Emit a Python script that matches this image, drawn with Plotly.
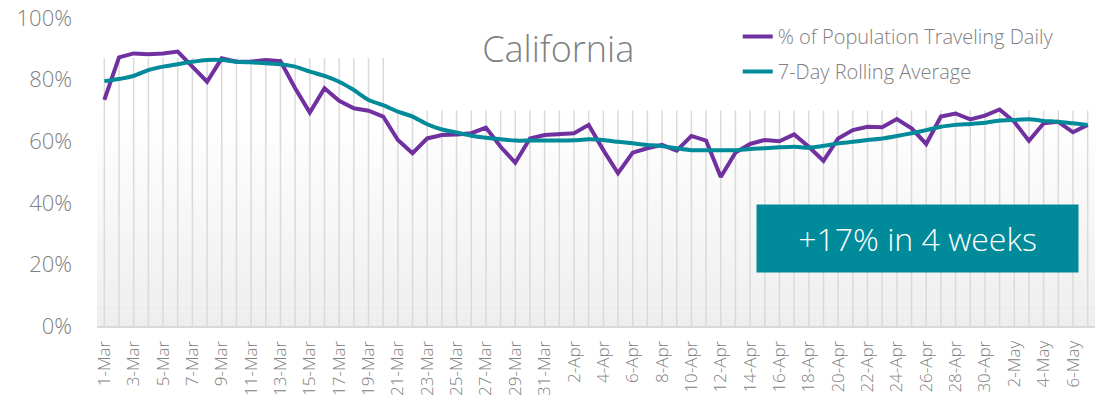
import plotly.graph_objects as go

# ---- data ----
dates = (
    [f"{d}-Mar" for d in range(1, 32)]
    + [f"{d}-Apr" for d in range(1, 31)]
    + [f"{d}-May" for d in range(1, 8)]
)
daily = [
    0.734, 0.872, 0.885, 0.882, 0.885, 0.891, 0.842, 0.793, 0.869, 0.858,
    0.858, 0.864, 0.860, 0.772, 0.693, 0.772, 0.731, 0.707, 0.699, 0.680,
    0.604, 0.561, 0.609, 0.620, 0.622, 0.626, 0.644, 0.582, 0.530, 0.609,
    0.620, 0.622, 0.626, 0.653, 0.571, 0.496, 0.563, 0.577, 0.588, 0.569,
    0.617, 0.602, 0.484, 0.563, 0.591, 0.604, 0.600, 0.622, 0.582, 0.536,
    0.609, 0.636, 0.647, 0.645, 0.672, 0.642, 0.591, 0.680, 0.690, 0.671,
    0.683, 0.703, 0.663, 0.601, 0.658, 0.663, 0.629, 0.653,
]
rolling = [
    0.795, 0.802, 0.812, 0.831, 0.842, 0.850, 0.858, 0.864, 0.864, 0.858,
    0.856, 0.853, 0.850, 0.842, 0.826, 0.812, 0.793, 0.766, 0.734, 0.717,
    0.696, 0.680, 0.655, 0.638, 0.628, 0.618, 0.611, 0.606, 0.602, 0.602,
    0.602, 0.602, 0.603, 0.606, 0.604, 0.598, 0.593, 0.588, 0.584, 0.577,
    0.571, 0.571, 0.571, 0.571, 0.575, 0.577, 0.580, 0.582, 0.579, 0.585,
    0.593, 0.598, 0.604, 0.609, 0.617, 0.626, 0.636, 0.647, 0.653, 0.656,
    0.660, 0.667, 0.669, 0.671, 0.666, 0.663, 0.658, 0.653,
]
series_names = ["% of Population Traveling Daily", "7-Day Rolling Average"]
title_text = "California"
callout_text = "+17% in 4 weeks"
y_ticks = [0, 0.2, 0.4, 0.6, 0.8, 1.0]

# ---- styling ----
PURPLE = "#7030a0"
TEAL = "#008a9a"
GRAY_TEXT = "#808080"
FONT = "Segoe UI Light, Open Sans, sans-serif"
GRID_TOP = 0.87       # gridline height on the left part of the plot
BOX_BOTTOM = 0.70     # bottom of the white title/legend box that masks the grid
BOX_START = 19.5      # the title/legend box starts between these two days

idx = list(range(len(dates)))

fig = go.Figure()

# vertical day gridlines (one per category, masked by the title/legend box)
gx, gy = [], []
for i in idx:
    gx += [i, i, None]
    gy += [0, GRID_TOP if i < BOX_START else BOX_BOTTOM, None]
fig.add_trace(go.Scatter(
    x=gx, y=gy, mode="lines", line=dict(color="#dadada", width=1.5),
    hoverinfo="skip", showlegend=False,
))

fig.add_trace(go.Scatter(
    x=idx, y=daily, mode="lines", name=series_names[0],
    line=dict(color=PURPLE, width=4), legendgroup="a",
))
fig.add_trace(go.Scatter(
    x=idx, y=rolling, mode="lines", name=series_names[1],
    line=dict(color=TEAL, width=4, shape="spline", smoothing=0.6), legendgroup="b",
))

# gradient background of the plot area (white at top -> light gray at bottom)
N = 30
for i in range(N):
    t = i / (N - 1)
    c = int(round(238 + (255 - 238) * t))
    fig.add_shape(type="rect", xref="paper", yref="y", x0=0, x1=1,
                  y0=BOX_BOTTOM * i / N, y1=BOX_BOTTOM * (i + 1) / N,
                  fillcolor=f"rgb({c},{c},{c})", line=dict(width=0), layer="below")

fig.add_annotation(
    xref="paper", yref="paper", x=0.822, y=0.284, xanchor="center", yanchor="middle",
    text=callout_text, showarrow=False, bgcolor=TEAL, width=319, height=65,
    font=dict(family=FONT, size=32, color="white", weight=300),
)

fig.update_layout(
    width=1101, height=401,
    margin=dict(l=97, r=6, t=18, b=75),
    paper_bgcolor="white", plot_bgcolor="white",
    title=dict(text=title_text, x=0.507, xanchor="center", y=0.878, yanchor="middle",
               font=dict(family=FONT, size=36, color=GRAY_TEXT, weight=300)),
    legend=dict(x=0.642, xanchor="left", y=1.003, yanchor="top", bgcolor="rgba(0,0,0,0)",
                font=dict(family=FONT, size=20, color=GRAY_TEXT, weight=300),
                tracegroupgap=6, traceorder="grouped"),
    showlegend=True,
)
fig.update_xaxes(
    range=[-0.5, len(dates) - 0.5],
    tickvals=idx[::2], ticktext=dates[::2], tickangle=-90,
    tickfont=dict(family=FONT, size=17, color=GRAY_TEXT, weight=300),
    ticks="", ticklabelstandoff=6, automargin=False,
    showgrid=False,
    showline=True, linecolor="#d9d9d9", linewidth=2, zeroline=False, fixedrange=True,
)
fig.update_yaxes(
    range=[0, 1], tickvals=y_ticks, tickformat=".0%",
    tickfont=dict(family=FONT, size=22, color=GRAY_TEXT, weight=300),
    showgrid=False, zeroline=False, showline=False, ticks="", ticklabelstandoff=24,
    automargin=False, fixedrange=True,
)

fig.write_html(
    "out.html",
    config={"displayModeBar": False},
    post_script="document.body.style.margin='0';document.body.style.padding='0';",
)
